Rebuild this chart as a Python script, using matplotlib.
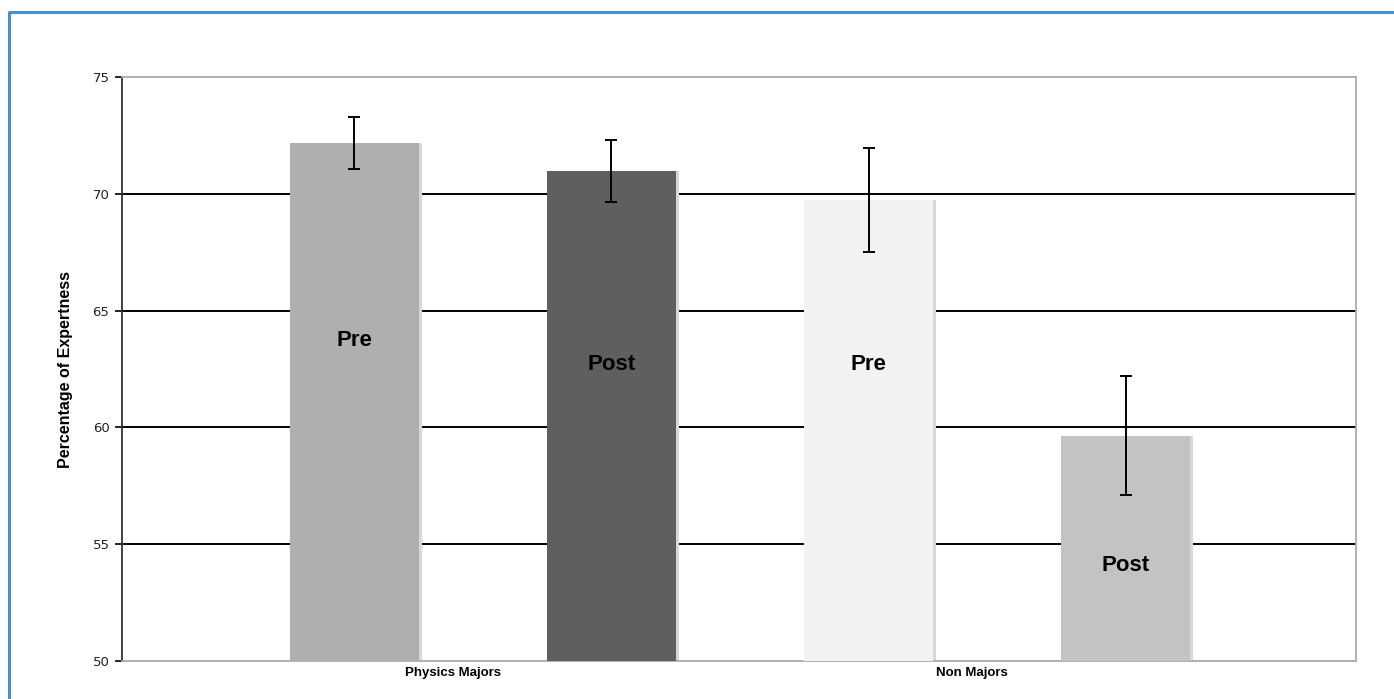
import numpy as np
import matplotlib.pyplot as plt
from matplotlib.lines import Line2D

# Values
bar_labels = ["Pre", "Post", "Pre", "Post"]
values = [72.17, 70.98, 69.72, 59.65]
errors = [1.1, 1.33, 2.23, 2.55]
bar_colors = ["#afafaf", "#5f5f5f", "#f2f2f2", "#c3c3c3"]
label_y = [63.7, 62.7, 62.7, 54.1]
groups = ["Physics Majors", "Non Majors"]
group_pos = [0.385, 2.40]
yticks = [50, 55, 60, 65, 70, 75]

fig = plt.figure(figsize=(13.94, 6.99), dpi=100)
ax = fig.add_axes([0.0875, 0.0544, 0.8852, 0.8354])

x = np.arange(len(values))
bottom = 50

# soft shadow to the right of each bar
ax.bar(x + 0.012, np.array(values) - bottom, bottom=bottom, width=0.5,
       color="#d8d8d8", zorder=2)
ax.bar(x, np.array(values) - bottom, bottom=bottom, width=0.5,
       color=bar_colors, zorder=3)
ax.errorbar(x, values, yerr=errors, fmt="none", ecolor="black",
            elinewidth=1.4, capsize=4.5, capthick=1.4, zorder=4)

for xi, lab, ly in zip(x, bar_labels, label_y):
    ax.text(xi, ly, lab, ha="center", va="center", fontsize=16,
            fontweight="bold", family="Liberation Sans",
            color="black", zorder=5)

ax.set_xlim(-0.903, 3.895)
ax.set_ylim(50, 75)
ax.set_yticks(yticks)
ax.set_yticklabels([str(t) for t in yticks], fontsize=9.5, color="#222222")
ax.set_xticks(group_pos)
ax.set_xticklabels(groups, fontsize=9.5, fontweight="bold",
                   family="Liberation Sans")
ax.tick_params(axis="x", length=0, pad=4)
ax.tick_params(axis="y", length=5, width=1.2, color="black", pad=4)

for yv in yticks[1:-1]:
    ax.axhline(yv, color="black", lw=1.4, zorder=1)

ax.spines["left"].set_color("#333333")
ax.spines["left"].set_linewidth(1.3)
for s in ["top", "right", "bottom"]:
    ax.spines[s].set_color("#aaaaaa")
    ax.spines[s].set_linewidth(1.3)

ax.set_ylabel("Percentage of Expertness", fontsize=11.5, fontweight="bold",
              family="Liberation Sans", labelpad=14)

# blue frame around the figure
bx = 8.5 / 1394
by = 1 - 11.5 / 699
fig.add_artist(Line2D([bx, bx, 1.0], [0.0, by, by], transform=fig.transFigure,
                      color="#4a8fd6", lw=2.2))

fig.savefig("out.png", dpi=100)
